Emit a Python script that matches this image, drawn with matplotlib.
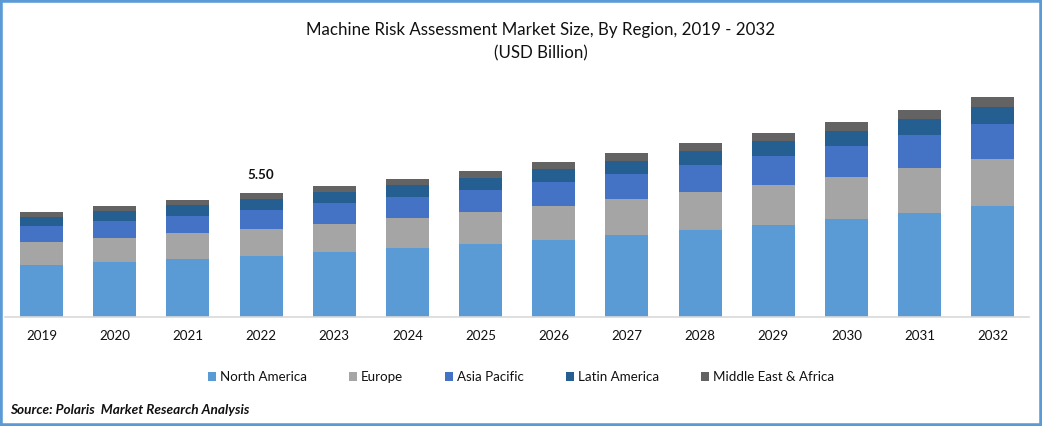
import numpy as np
from matplotlib import pyplot as plt
from matplotlib.patches import Rectangle

plt.rcParams['font.family'] = ['Lato', 'DejaVu Sans']

years = ['2019', '2020', '2021', '2022', '2023', '2024', '2025',
         '2026', '2027', '2028', '2029', '2030', '2031', '2032']
north_america = [2.31, 2.44, 2.57, 2.71, 2.88, 3.06, 3.24, 3.41, 3.64, 3.86, 4.08, 4.35, 4.61, 4.92]
europe = [1.02, 1.06, 1.15, 1.20, 1.24, 1.33, 1.42, 1.51, 1.60, 1.69, 1.77, 1.86, 2.00, 2.08]
asia_pacific = [0.71, 0.75, 0.75, 0.84, 0.93, 0.93, 0.98, 1.06, 1.11, 1.20, 1.29, 1.37, 1.46, 1.55]
latin_america = [0.40, 0.44, 0.49, 0.49, 0.49, 0.53, 0.53, 0.58, 0.58, 0.62, 0.67, 0.67, 0.71, 0.75]
middle_east = [0.22, 0.22, 0.22, 0.27, 0.27, 0.27, 0.31, 0.31, 0.35, 0.35, 0.35, 0.40, 0.40, 0.44]

series = [('North America', north_america, '#5B9BD5'),
          ('Europe', europe, '#A5A5A5'),
          ('Asia Pacific', asia_pacific, '#4472C4'),
          ('Latin America', latin_america, '#255E91'),
          ('Middle East & Africa', middle_east, '#636363')]

W, H = 1042, 426
fig = plt.figure(figsize=(W / 100, H / 100), dpi=100)
# axes box in pixels: baseline at y=317, top of the plot at y=80
ax = fig.add_axes([4.9 / W, (H - 317) / H, (1029.5 - 4.9) / W, (317 - 80) / H])

x = np.arange(len(years))
bottom = np.zeros(len(years))
for name, vals, col in series:
    ax.bar(x, vals, 0.587, bottom=bottom, color=col, label=name)
    bottom += np.array(vals)

ax.set_xlim(-0.5, len(years) - 0.5)
ax.set_ylim(0, 237 / 22.55)
ax.set_xticks(x, years)
ax.tick_params(axis='x', length=0, pad=9, labelsize=9.6, colors='#111111')
ax.set_yticks([])
for s in ['top', 'left', 'right']:
    ax.spines[s].set_visible(False)
ax.spines['bottom'].set_color('#D9D9D9')
ax.spines['bottom'].set_linewidth(1.2)

ax.text(3, bottom[3] + 0.5, '5.50', ha='center', va='bottom', fontsize=9.6,
        fontweight='bold', color='#111111')

fig.text(541 / W, 1 - 29.5 / H, 'Machine Risk Assessment Market Size, By Region, 2019 - 2032',
         ha='center', va='center', fontsize=12.2, color='#111111')
fig.text(541 / W, 1 - 53 / H, '(USD Billion)', ha='center', va='center',
         fontsize=12.2, color='#111111')

fig.legend(loc='center', bbox_to_anchor=(521 / W, 1 - 377 / H), ncol=5, frameon=False,
           fontsize=9.6, handlelength=0.6, handleheight=0.6, handletextpad=0.3,
           columnspacing=3.15, labelcolor='#111111')

fig.text(10 / W, 1 - 410 / H, 'Source: Polaris  Market Research Analysis', ha='left', va='center',
         fontsize=9.85, fontweight='bold', fontstyle='italic', color='#111111')

# blue frame around the whole image
fig.add_artist(Rectangle((0, 0), 1, 1, transform=fig.transFigure, fill=False,
                         edgecolor='#5B9BD5', linewidth=4))

fig.savefig('out.png', dpi=100)
